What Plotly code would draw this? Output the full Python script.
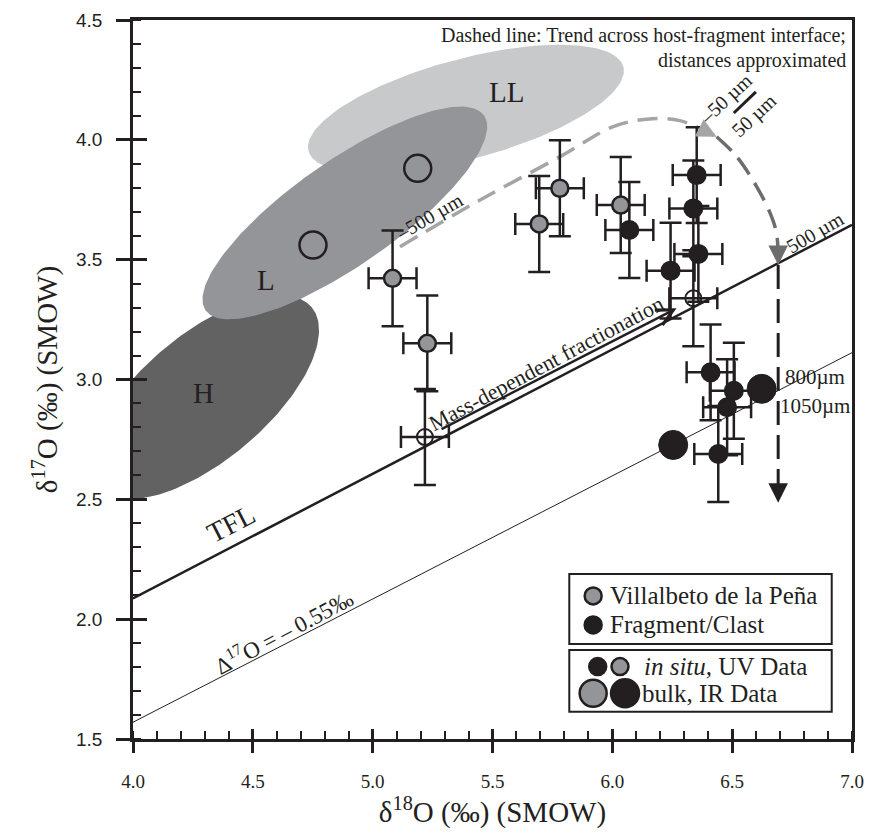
import numpy as np
import plotly.graph_objects as go

# ---------------- data ----------------
gray_x = [5.083, 5.228, 5.695, 5.781, 6.035]          # Villalbeto, in situ UV
gray_y = [3.422, 3.151, 3.649, 3.798, 3.728]
black_x = [6.071, 6.243, 6.352, 6.338, 6.359, 6.410, 6.507, 6.479, 6.442]  # Fragment, in situ
black_y = [3.624, 3.454, 3.853, 3.714, 3.524, 3.030, 2.953, 2.884, 2.689]
open_x = [5.218, 6.338]                                # open small circles
open_y = [2.760, 3.339]
err_x = 0.1
err_y = 0.2
bulk_open_x = [4.751, 5.188]                           # bulk IR (open, in L field)
bulk_open_y = [3.561, 3.881]
bulk_black_x = [6.623, 6.254]                          # bulk IR fragment
bulk_black_y = [2.961, 2.727]

tfl_x = [4.0, 7.0]
tfl_y = [2.087, 3.645]
d55_x = [4.0, 7.0]
d55_y = [1.570, 3.112]

# ordinary chondrite fields: center, semi-axes, angle (deg)
ell_names = ["H", "LL", "L"]
ell_cx = [4.298, 5.389, 4.884]
ell_cy = [2.926, 4.129, 3.695]
ell_a = [0.584, 0.680, 0.709]
ell_b = [0.263, 0.209, 0.217]
ell_ang = [40, 15, 35]
ell_col = ["#626262", "#c8c9cb", "#939598"]
ell_lab_x = [4.293, 5.560, 4.555]
ell_lab_y = [2.943, 4.200, 3.415]

# trend across host-fragment interface
trend1_x = [5.114, 5.448, 5.782, 6.004, 6.143, 6.282, 6.435]
trend1_y = [3.554, 3.749, 3.930, 4.055, 4.086, 4.080, 4.013]
trend2_x = [6.435, 6.519, 6.602, 6.658, 6.685, 6.692]
trend2_y = [4.013, 3.930, 3.805, 3.695, 3.611, 3.500]
trend3_x = [6.692, 6.692]
trend3_y = [3.478, 2.53]

mdf_start = (5.281, 2.790)
mdf_end = (6.268, 3.297)

x_ticks = [4.0, 4.5, 5.0, 5.5, 6.0, 6.5, 7.0]
y_ticks = [1.5, 2.0, 2.5, 3.0, 3.5, 4.0, 4.5]

INK = "#231f20"
SERIF = "Liberation Serif"
SANS = "Liberation Sans"

fig = go.Figure()

# ellipses
t = np.linspace(0, 2 * np.pi, 200)
for n, cx, cy, a, b, ang, col in zip(ell_names, ell_cx, ell_cy, ell_a, ell_b, ell_ang, ell_col):
    th = np.deg2rad(ang)
    ex = cx + a * np.cos(t) * np.cos(th) - b * np.sin(t) * np.sin(th)
    ey = cy + a * np.cos(t) * np.sin(th) + b * np.sin(t) * np.cos(th)
    fig.add_trace(go.Scatter(x=ex, y=ey, mode="lines", fill="toself", fillcolor=col,
                             line=dict(width=0, color=col), hoverinfo="skip", showlegend=False))

# reference lines
fig.add_trace(go.Scatter(x=tfl_x, y=tfl_y, mode="lines", line=dict(color=INK, width=2.5), showlegend=False))
fig.add_trace(go.Scatter(x=d55_x, y=d55_y, mode="lines", line=dict(color=INK, width=1), showlegend=False))

# trend curves
fig.add_trace(go.Scatter(x=trend1_x, y=trend1_y, mode="lines", line=dict(color="#a5a5a5", width=3.5, dash="20px,10px", shape="spline"), showlegend=False))
fig.add_trace(go.Scatter(x=trend2_x, y=trend2_y, mode="lines", line=dict(color="#6d6d6d", width=3.5, dash="20px,10px", shape="spline"), showlegend=False))
fig.add_trace(go.Scatter(x=trend3_x, y=trend3_y, mode="lines", line=dict(color=INK, width=3, dash="24px,10px"), showlegend=False))

# data points with error bars
ebx = dict(type="constant", value=err_x, color=INK, thickness=2.5, width=11)
eby = dict(type="constant", value=err_y, color=INK, thickness=2.5, width=11)
fig.add_trace(go.Scatter(x=open_x, y=open_y, mode="markers", error_x=ebx, error_y=eby,
                         marker=dict(size=16, color="rgba(0,0,0,0)", opacity=1, line=dict(color=INK, width=2)), showlegend=False))
fig.add_trace(go.Scatter(x=black_x, y=black_y, mode="markers", error_x=ebx, error_y=eby,
                         marker=dict(size=18, color=INK, opacity=1, line=dict(color=INK, width=2)), showlegend=False))
fig.add_trace(go.Scatter(x=gray_x, y=gray_y, mode="markers", error_x=ebx, error_y=eby,
                         marker=dict(size=17, color="#939598", opacity=1, line=dict(color=INK, width=2.5)), showlegend=False))
fig.add_trace(go.Scatter(x=bulk_open_x, y=bulk_open_y, mode="markers",
                         marker=dict(size=27, color="rgba(0,0,0,0)", opacity=1, line=dict(color=INK, width=2.5)), showlegend=False))
fig.add_trace(go.Scatter(x=bulk_black_x, y=bulk_black_y, mode="markers",
                         marker=dict(size=29, color=INK, opacity=1, line=dict(color=INK, width=1)), showlegend=False))

# ---------------- manual legend (layout positions) ----------------
LEG_MX = [5.920, 5.920, 5.939, 6.032, 5.920, 6.053]
LEG_MY = [2.097, 1.976, 1.802, 1.802, 1.691, 1.691]
LEG_MS = [17, 17, 17, 17, 27, 28]
LEG_MC = ["#939598", INK, INK, "#939598", "#939598", INK]
fig.add_trace(go.Scatter(x=LEG_MX, y=LEG_MY, mode="markers",
                         marker=dict(size=LEG_MS, color=LEG_MC, opacity=1, line=dict(color=INK, width=2.5)),
                         showlegend=False, hoverinfo="skip", cliponaxis=False))

shapes = [
    dict(type="rect", xref="paper", yref="paper", x0=0.6068, x1=0.9718, y0=0.1321, y1=0.2295,
         line=dict(color=INK, width=2), fillcolor="rgba(0,0,0,0)", layer="below"),
    dict(type="rect", xref="paper", yref="paper", x0=0.6068, x1=0.9718, y0=0.0380, y1=0.1238,
         line=dict(color=INK, width=2), fillcolor="rgba(0,0,0,0)", layer="below"),
    dict(type="line", xref="x", yref="y", x0=6.507, y0=4.112, x1=6.599, y1=4.200,
         line=dict(color=INK, width=3)),
]

ann = []
def txt(x, y, s, size=21, angle=0, xanchor="center", yanchor="middle"):
    ann.append(dict(x=x, y=y, xref="x", yref="y", text=s, showarrow=False, textangle=angle,
                    xanchor=xanchor, yanchor=yanchor, font=dict(family=SERIF, size=size, color=INK)))

for n, lx, ly in zip(ell_names, ell_lab_x, ell_lab_y):
    txt(lx, ly, n, size=29)
txt(4.41, 2.40, "TFL", size=28, angle=-27)
txt(4.627, 1.950, "Δ<sup>17</sup>O = – 0.55‰", size=23, angle=-28)
txt(5.722, 3.068, "Mass-dependent fractionation", size=22, angle=-28)
txt(5.239, 3.679, "–500 µm", size=20, angle=-30)
txt(6.848, 3.614, "500 µm", size=20, angle=-30)
txt(6.476, 4.173, "–50 µm", size=20, angle=-43)
txt(6.593, 4.102, "50 µm", size=20, angle=-43)
txt(6.845, 3.009, "800µm", size=21)
txt(6.845, 2.890, "1050µm", size=21)
txt(6.983, 4.437, "Dashed line: Trend across host-fragment interface;", size=20, xanchor="right")
txt(6.983, 4.333, "distances approximated", size=20, xanchor="right")
# legend labels
txt(5.982, 2.097, "Villalbeto de la Peña", size=25, xanchor="left")
txt(5.982, 1.976, "Fragment/Clast", size=25, xanchor="left")
txt(6.122, 1.802, "<i>in situ,</i> UV Data", size=25, xanchor="left")
txt(6.115, 1.691, "bulk, IR Data", size=25, xanchor="left")

# arrows
def arrow(x, y, ax, ay, color, width=3, head=2, size=1.2):
    ann.append(dict(x=x, y=y, ax=ax, ay=ay, xref="x", yref="y", axref="x", ayref="y", text="",
                    showarrow=True, arrowhead=head, arrowsize=size, arrowwidth=width, arrowcolor=color))
arrow(mdf_end[0], mdf_end[1], mdf_start[0], mdf_start[1], INK, width=2.5, head=5, size=1.3)
arrow(6.435, 4.013, 6.39, 4.036, "#a5a5a5", width=3, head=2, size=1.3)
arrow(6.692, 3.478, 6.692, 3.53, "#6d6d6d", width=3, head=2, size=1.3)
arrow(6.692, 2.486, 6.692, 2.54, INK, width=3, head=2, size=1.3)

# overlay axes for the inside half of the major ticks
fig.add_trace(go.Scatter(x=[], y=[], xaxis="x2", yaxis="y2", showlegend=False))

fig.update_layout(
    width=869, height=836,
    margin=dict(l=133, r=17, t=20, b=97, autoexpand=False),
    paper_bgcolor="white", plot_bgcolor="white",
    showlegend=False,
    shapes=shapes, annotations=ann,
    xaxis=dict(range=[4.0, 7.0], tickvals=x_ticks, ticktext=[f"{v:.1f}" for v in x_ticks],
               ticks="outside", ticklen=11, tickwidth=2.5, tickcolor=INK, automargin=False,
               showline=True, linewidth=2.5, linecolor=INK, mirror=True,
               showgrid=False, zeroline=False,
               minor=dict(ticks="inside", dtick=0.1, tick0=4.0, ticklen=8, tickwidth=2, tickcolor=INK, showgrid=False),
               tickfont=dict(family=SERIF, size=19, color=INK), ticklabelstandoff=12,
               title=dict(text="δ<sup>18</sup>O (‰) (SMOW)", font=dict(family=SERIF, size=29, color=INK), standoff=12)),
    yaxis=dict(range=[1.5, 4.5], tickvals=y_ticks, ticktext=[f"{v:.1f}" for v in y_ticks],
               ticks="outside", ticklen=14, tickwidth=2.5, tickcolor=INK, automargin=False,
               showline=True, linewidth=2.5, linecolor=INK, mirror=True,
               showgrid=False, zeroline=False,
               minor=dict(ticks="inside", dtick=0.1, tick0=1.5, ticklen=8, tickwidth=2, tickcolor=INK, showgrid=False),
               tickfont=dict(family=SANS, size=19, color=INK), ticklabelstandoff=10,
               title=dict(text="δ<sup>17</sup>O (‰) (SMOW)", font=dict(family=SERIF, size=29, color=INK), standoff=10)),
    xaxis2=dict(overlaying="x", anchor="y", range=[4.0, 7.0], tickvals=x_ticks, ticks="inside",
                ticklen=10, tickwidth=2.5, tickcolor=INK, showticklabels=False, showline=False,
                showgrid=False, zeroline=False, automargin=False),
    yaxis2=dict(overlaying="y", anchor="x", range=[1.5, 4.5], tickvals=y_ticks, ticks="inside",
                ticklen=14, tickwidth=2.5, tickcolor=INK, showticklabels=False, showline=False,
                showgrid=False, zeroline=False, automargin=False),
)

fig.write_html("out.html")
